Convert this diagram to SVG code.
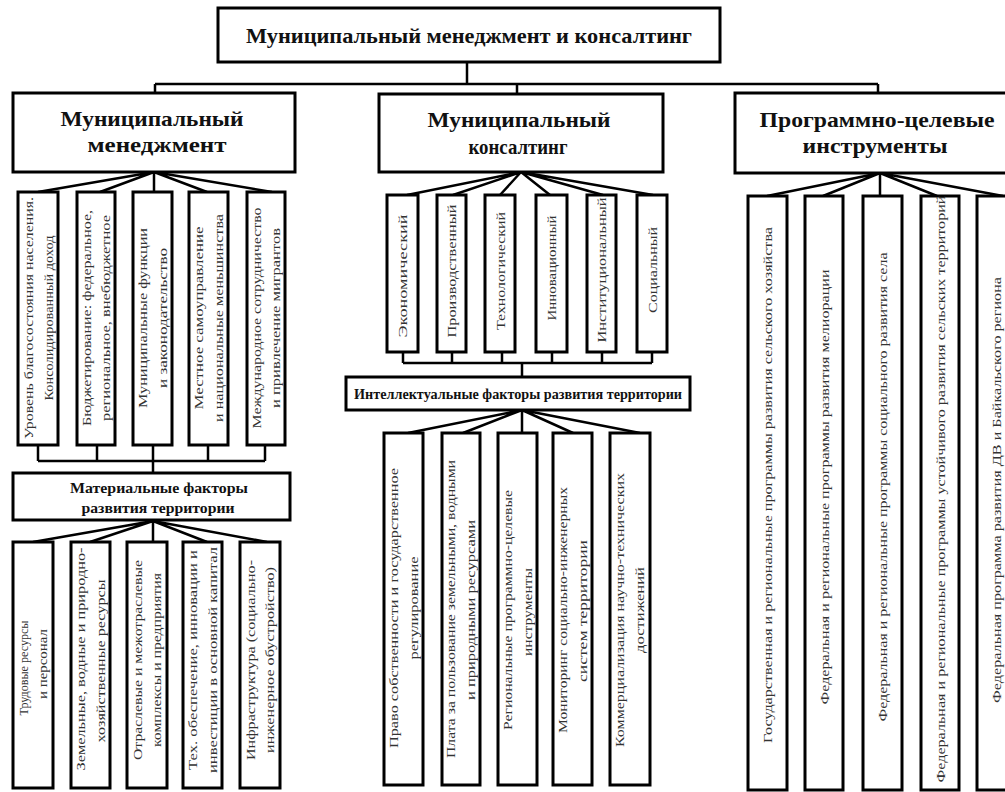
<svg xmlns="http://www.w3.org/2000/svg" width="1005" height="792" viewBox="0 0 1005 792">
<style>
.box{fill:#fff;stroke:#000;stroke-width:3}
.ln{stroke:#000;stroke-width:2.5;fill:none}
.h{font-family:"Liberation Serif",serif;font-weight:bold;text-anchor:middle;fill:#111}
.v{font-family:"Liberation Serif",serif;font-size:13px;text-anchor:middle;fill:#333}
</style>
<rect width="1005" height="792" fill="#fff"/>
<g id="connectors">
<path class="ln" d="M467,62V84M155,84H878M155,84V93M517,84V94M878,84V93"/>
<path class="ln" d="M154,172L38,192M154,172L100,192M154,172V192M154,172L207,192M154,172L272,192"/>
<path class="ln" d="M38,445V461M97,445V461M153,445V461M208,445V461M265,445V461M38,461H265M153,461V473"/>
<path class="ln" d="M153,521L33,542M153,521L90,542M153,521V542M153,521L207,542M153,521L267,542"/>
<path class="ln" d="M521,172L407,195M521,172L453,195M521,172L500,195M521,172L550,195M521,172L603,195M521,172L653,195"/>
<path class="ln" d="M403,352V363M452,352V363M502,352V363M552,352V363M602,352V363M652,352V363M403,363H652M522,363V377"/>
<path class="ln" d="M522,410L408,433M522,410L463,433M522,410V433M522,410L573,433M522,410L640,433"/>
<path class="ln" d="M880,173L767,196M880,173L823,196M880,173V196M880,173L937,196M880,173L1003,196"/>
</g>
<g id="root"><rect class="box" x="218" y="8" width="502" height="54"/><text class="h" x="469" y="43" font-size="22" textLength="446" lengthAdjust="spacingAndGlyphs">Муниципальный менеджмент и консалтинг</text></g>
<g id="mm"><rect class="box" x="13" y="93" width="282" height="79"/><text class="h" x="152" y="126" font-size="22" textLength="183" lengthAdjust="spacingAndGlyphs">Муниципальный</text><text class="h" x="157" y="152" font-size="22" textLength="139" lengthAdjust="spacingAndGlyphs">менеджмент</text></g>
<g id="mk"><rect class="box" x="379" y="94" width="284" height="78"/><text class="h" x="519" y="127" font-size="22" textLength="183" lengthAdjust="spacingAndGlyphs">Муниципальный</text><text class="h" x="518" y="154" font-size="22" textLength="99" lengthAdjust="spacingAndGlyphs">консалтинг</text></g>
<g id="pc"><rect class="box" x="735" y="93" width="284" height="80"/><text class="h" x="877" y="127" font-size="22" textLength="235" lengthAdjust="spacingAndGlyphs">Программно-целевые</text><text class="h" x="875" y="153" font-size="22" textLength="145" lengthAdjust="spacingAndGlyphs">инструменты</text></g>
<g id="l1"><rect class="box" x="18" y="192" width="40" height="253"/><text class="v" transform="translate(32.5,318) rotate(-90)" textLength="242" lengthAdjust="spacingAndGlyphs">Уровень благосостояния населения.</text><text class="v" transform="translate(52.5,318) rotate(-90)" textLength="165" lengthAdjust="spacingAndGlyphs">Консолидированный доход</text></g>
<g id="l2"><rect class="box" x="77" y="192" width="38" height="253"/><text class="v" transform="translate(90.5,318) rotate(-90)" textLength="216" lengthAdjust="spacingAndGlyphs">Бюджетирование: федеральное,</text><text class="v" transform="translate(110,318) rotate(-90)" textLength="206" lengthAdjust="spacingAndGlyphs">региональное, внебюджетное</text></g>
<g id="l3"><rect class="box" x="133" y="192" width="39" height="253"/><text class="v" transform="translate(147,318) rotate(-90)" textLength="180" lengthAdjust="spacingAndGlyphs">Муниципальные функции</text><text class="v" transform="translate(167,318) rotate(-90)" textLength="140" lengthAdjust="spacingAndGlyphs">и законодательство</text></g>
<g id="l4"><rect class="box" x="189" y="192" width="39" height="253"/><text class="v" transform="translate(203,318) rotate(-90)" textLength="183" lengthAdjust="spacingAndGlyphs">Местное самоуправление</text><text class="v" transform="translate(223,318) rotate(-90)" textLength="208" lengthAdjust="spacingAndGlyphs">и национальные меньшинства</text></g>
<g id="l5"><rect class="box" x="247" y="192" width="38" height="253"/><text class="v" transform="translate(260.5,318) rotate(-90)" textLength="221" lengthAdjust="spacingAndGlyphs">Международное сотрудничество</text><text class="v" transform="translate(280,318) rotate(-90)" textLength="180" lengthAdjust="spacingAndGlyphs">и привлечение мигрантов</text></g>
<g id="mat"><rect class="box" x="13" y="473" width="277" height="47"/><text class="h" x="159" y="493" font-size="14" textLength="178" lengthAdjust="spacingAndGlyphs">Материальные факторы</text><text class="h" x="158" y="513" font-size="14" textLength="153" lengthAdjust="spacingAndGlyphs">развития территории</text></g>
<g id="b1"><rect class="box" x="13" y="542" width="40" height="246"/><text class="v" transform="translate(27.5,668) rotate(-90)" textLength="95" lengthAdjust="spacingAndGlyphs">Трудовые ресурсы</text><text class="v" transform="translate(47,664) rotate(-90)" textLength="70" lengthAdjust="spacingAndGlyphs">и персонал</text></g>
<g id="b2"><rect class="box" x="71" y="542" width="39" height="246"/><text class="v" transform="translate(84.5,659) rotate(-90)" textLength="223" lengthAdjust="spacingAndGlyphs">Земельные, водные и природно-</text><text class="v" transform="translate(104.5,661) rotate(-90)" textLength="163" lengthAdjust="spacingAndGlyphs">хозяйственные ресурсы</text></g>
<g id="b3"><rect class="box" x="127" y="542" width="40" height="246"/><text class="v" transform="translate(141.5,660) rotate(-90)" textLength="200" lengthAdjust="spacingAndGlyphs">Отраслевые и межотраслевые</text><text class="v" transform="translate(161,660) rotate(-90)" textLength="174" lengthAdjust="spacingAndGlyphs">комплексы и предприятия</text></g>
<g id="b4"><rect class="box" x="183" y="542" width="39" height="246"/><text class="v" transform="translate(197,660) rotate(-90)" textLength="220" lengthAdjust="spacingAndGlyphs">Тех. обеспечение, инновации и</text><text class="v" transform="translate(217,660) rotate(-90)" textLength="226" lengthAdjust="spacingAndGlyphs">инвестиции в основной капитал</text></g>
<g id="b5"><rect class="box" x="240" y="542" width="40" height="246"/><text class="v" transform="translate(254.5,660) rotate(-90)" textLength="200" lengthAdjust="spacingAndGlyphs">Инфраструктура (социально-</text><text class="v" transform="translate(274,660) rotate(-90)" textLength="186" lengthAdjust="spacingAndGlyphs">инженерное обустройство)</text></g>
<g id="m1"><rect class="box" x="387" y="195" width="31" height="157"/><text class="v" transform="translate(407,276) rotate(-90)" textLength="123" lengthAdjust="spacingAndGlyphs">Экономический</text></g>
<g id="m2"><rect class="box" x="437" y="195" width="29" height="157"/><text class="v" transform="translate(456,271) rotate(-90)" textLength="133" lengthAdjust="spacingAndGlyphs">Производственный</text></g>
<g id="m3"><rect class="box" x="485" y="195" width="30" height="157"/><text class="v" transform="translate(504.5,271) rotate(-90)" textLength="118" lengthAdjust="spacingAndGlyphs">Технологический</text></g>
<g id="m4"><rect class="box" x="536" y="195" width="31" height="157"/><text class="v" transform="translate(556,268) rotate(-90)" textLength="105" lengthAdjust="spacingAndGlyphs">Инновационный</text></g>
<g id="m5"><rect class="box" x="587" y="195" width="29" height="157"/><text class="v" transform="translate(606,270) rotate(-90)" textLength="145" lengthAdjust="spacingAndGlyphs">Институциональный</text></g>
<g id="m6"><rect class="box" x="637" y="195" width="30" height="157"/><text class="v" transform="translate(656.5,270) rotate(-90)" textLength="86" lengthAdjust="spacingAndGlyphs">Социальный</text></g>
<g id="int"><rect class="box" x="346" y="377" width="344" height="33"/><text class="h" x="518" y="399" font-size="14" textLength="328" lengthAdjust="spacingAndGlyphs">Интеллектуальные факторы развития территории</text></g>
<g id="c1"><rect class="box" x="384" y="433" width="39" height="352"/><text class="v" transform="translate(397.5,608) rotate(-90)" textLength="280" lengthAdjust="spacingAndGlyphs">Право собственности и государственное</text><text class="v" transform="translate(418,608) rotate(-90)" textLength="103" lengthAdjust="spacingAndGlyphs">регулирование</text></g>
<g id="c2"><rect class="box" x="442" y="433" width="38" height="352"/><text class="v" transform="translate(455,609) rotate(-90)" textLength="298" lengthAdjust="spacingAndGlyphs">Плата за пользование земельными, водными</text><text class="v" transform="translate(475,610) rotate(-90)" textLength="180" lengthAdjust="spacingAndGlyphs">и природными ресурсами</text></g>
<g id="c3"><rect class="box" x="498" y="433" width="39" height="352"/><text class="v" transform="translate(511.5,610) rotate(-90)" textLength="240" lengthAdjust="spacingAndGlyphs">Региональные программно-целевые</text><text class="v" transform="translate(531.5,612) rotate(-90)" textLength="88" lengthAdjust="spacingAndGlyphs">инструменты</text></g>
<g id="c4"><rect class="box" x="553" y="433" width="39" height="352"/><text class="v" transform="translate(566.5,610) rotate(-90)" textLength="246" lengthAdjust="spacingAndGlyphs">Мониторинг социально-инженерных</text><text class="v" transform="translate(586.5,611) rotate(-90)" textLength="142" lengthAdjust="spacingAndGlyphs">систем территории</text></g>
<g id="c5"><rect class="box" x="610" y="433" width="40" height="352"/><text class="v" transform="translate(624,610) rotate(-90)" textLength="274" lengthAdjust="spacingAndGlyphs">Коммерциализация научно-технических</text><text class="v" transform="translate(644,610) rotate(-90)" textLength="86" lengthAdjust="spacingAndGlyphs">достижений</text></g>
<g id="r1"><rect class="box" x="748" y="196" width="39" height="594"/><text class="v" transform="translate(772,485) rotate(-90)" textLength="516" lengthAdjust="spacingAndGlyphs">Государственная и региональные программы развития сельского хозяйства</text></g>
<g id="r2"><rect class="box" x="805" y="196" width="38" height="594"/><text class="v" transform="translate(828.5,487) rotate(-90)" textLength="435" lengthAdjust="spacingAndGlyphs">Федеральная и региональные программы развития мелиорации</text></g>
<g id="r3"><rect class="box" x="863" y="196" width="39" height="594"/><text class="v" transform="translate(887,487) rotate(-90)" textLength="469" lengthAdjust="spacingAndGlyphs">Федеральная и региональные программы социального развития села</text></g>
<g id="r4"><rect class="box" x="921" y="196" width="38" height="594"/><text class="v" transform="translate(944.5,489) rotate(-90)" textLength="587" lengthAdjust="spacingAndGlyphs">Федеральная и региональные программы устойчивого развития сельских территорий</text></g>
<g id="r5"><rect class="box" x="977" y="196" width="40" height="594"/><text class="v" transform="translate(1000.5,490) rotate(-90)" textLength="426" lengthAdjust="spacingAndGlyphs">Федеральная программа развития ДВ и Байкальского региона</text></g>
</svg>
